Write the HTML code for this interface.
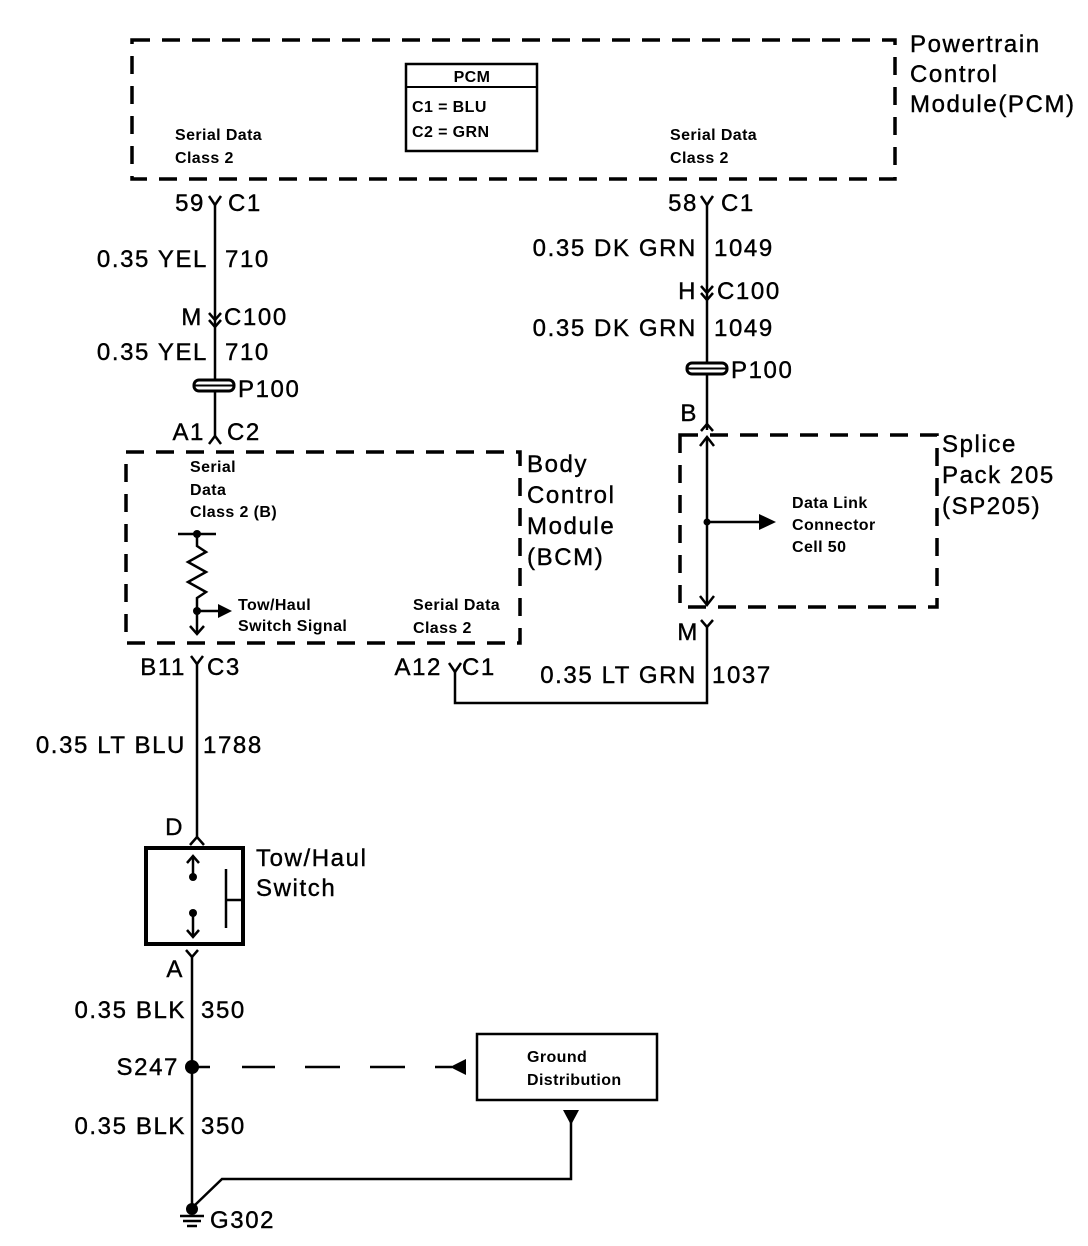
<!DOCTYPE html>
<html><head><meta charset="utf-8"><style>
html,body{margin:0;padding:0;background:#fff}
svg{display:block}
text{font-family:"Liberation Sans",Arial,sans-serif;fill:#000}
.b{font-size:24px;letter-spacing:1.6px;stroke:#000;stroke-width:0.4}
.s{font-size:16px;letter-spacing:0.4px;font-weight:bold}
</style></head><body>
<svg width="1088" height="1246" viewBox="0 0 1088 1246" xmlns="http://www.w3.org/2000/svg">
<g fill="none" stroke="#000">
<rect x="132" y="40" width="763" height="139" stroke-width="3.5" stroke-dasharray="18,12"/>
<rect x="406" y="64" width="131" height="87" stroke-width="2.5"/>
<line x1="406" y1="87" x2="537" y2="87" stroke-width="2"/>
<rect x="126" y="452" width="394" height="191" stroke-width="3.5" stroke-dasharray="18,12"/>
<rect x="680" y="435" width="257" height="172" stroke-width="3.5" stroke-dasharray="18,12"/>
<rect x="146" y="848" width="97" height="96" stroke-width="4"/>
<rect x="477" y="1034" width="180" height="66" stroke-width="2.5"/>

<g stroke-width="2.5">
<line x1="215" y1="205" x2="215" y2="438"/>
<polyline points="209,196 215,205 221,196"/>
<polyline points="209,313 215,320 221,313"/>
<polyline points="209,320 215,327 221,320"/>
<polyline points="209,444 215,436 221,444"/>
<line x1="707" y1="205" x2="707" y2="430"/>
<polyline points="701,196 707,205 713,196"/>
<polyline points="701,286 707,293 713,286"/>
<polyline points="701,293 707,300 713,293"/>
<polyline points="701,431 707,424 713,431"/>
<line x1="707" y1="437" x2="707" y2="605"/>
<polyline points="700,446 707,437 714,446"/>
<polyline points="700,596 707,605 714,596"/>
<line x1="707" y1="522" x2="760" y2="522"/>
<polyline points="701,620 707,627 713,620"/>
<polyline points="707,627 707,703 455,703 455,672"/>
<polyline points="449,663 455,672 461,663"/>
<line x1="178" y1="534" x2="216" y2="534"/>
<polyline points="197,534 197,546 206,552 188,562 206,572 188,582 206,592 197,598 197,634"/>
<line x1="197" y1="611" x2="218" y2="611"/>
<polyline points="190,626 197,634 204,626"/>
<line x1="197" y1="664" x2="197" y2="838"/>
<polyline points="191,656 197,664 203,656"/>
<polyline points="190,845 197,837 204,845"/>
<line x1="193" y1="856" x2="193" y2="877"/>
<polyline points="187,863 193,856 199,863"/>
<line x1="193" y1="913" x2="193" y2="937"/>
<polyline points="187,930 193,937 199,930"/>
<line x1="226" y1="869" x2="226" y2="928"/>
<line x1="226" y1="900" x2="243" y2="900"/>
<line x1="192" y1="957" x2="192" y2="1210"/>
<polyline points="186,950 192,957 198,950"/>
<polyline points="571,1118 571,1179 222,1179 195,1205"/>
<line x1="192" y1="1067" x2="210" y2="1067"/>
<line x1="242" y1="1067" x2="275" y2="1067"/>
<line x1="305" y1="1067" x2="340" y2="1067"/>
<line x1="370" y1="1067" x2="405" y2="1067"/>
<line x1="435" y1="1067" x2="452" y2="1067"/>
<line x1="180" y1="1216" x2="204" y2="1216"/>
<line x1="183" y1="1221" x2="201" y2="1221"/>
<line x1="187" y1="1226" x2="197" y2="1226"/>
</g>
</g>
<g fill="#000">
<rect x="194" y="380" width="40" height="11" rx="5" fill="#fff" stroke="#000" stroke-width="3"/>
<line x1="194" y1="385.5" x2="234" y2="385.5" stroke="#000" stroke-width="2"/>
<rect x="687" y="363" width="40" height="11" rx="5" fill="#fff" stroke="#000" stroke-width="3"/>
<line x1="687" y1="368.5" x2="727" y2="368.5" stroke="#000" stroke-width="2"/>
<circle cx="197" cy="534" r="4"/>
<circle cx="197" cy="611" r="4"/>
<polygon points="218,604 232,611 218,618"/>
<circle cx="707" cy="522" r="3.5"/>
<polygon points="759,514 776,522 759,530"/>
<circle cx="193" cy="877" r="4"/>
<circle cx="193" cy="913" r="4"/>
<circle cx="192" cy="1067" r="7"/>
<polygon points="466,1059 466,1075 450,1067"/>
<polygon points="563,1110 579,1110 571,1125"/>
<circle cx="192" cy="1209" r="6"/>
</g>

<text class="s" x="472" y="82" text-anchor="middle">PCM</text>
<text class="s" x="412" y="112">C1 = BLU</text>
<text class="s" x="412" y="137">C2 = GRN</text>
<text class="s" x="175" y="140">Serial Data</text>
<text class="s" x="175" y="163">Class 2</text>
<text class="s" x="670" y="140">Serial Data</text>
<text class="s" x="670" y="163">Class 2</text>
<text class="b" x="910" y="52">Powertrain</text>
<text class="b" x="910" y="82">Control</text>
<text class="b" x="910" y="112">Module(PCM)</text>

<text class="b" x="205" y="211" text-anchor="end">59</text>
<text class="b" x="228" y="211">C1</text>
<text class="b" x="208" y="267" text-anchor="end">0.35 YEL</text>
<text class="b" x="225" y="267">710</text>
<text class="b" x="203" y="325" text-anchor="end">M</text>
<text class="b" x="224" y="325">C100</text>
<text class="b" x="208" y="360" text-anchor="end">0.35 YEL</text>
<text class="b" x="225" y="360">710</text>
<text class="b" x="238" y="397">P100</text>
<text class="b" x="205" y="440" text-anchor="end">A1</text>
<text class="b" x="227" y="440">C2</text>

<text class="b" x="698" y="211" text-anchor="end">58</text>
<text class="b" x="721" y="211">C1</text>
<text class="b" x="697" y="256" text-anchor="end">0.35 DK GRN</text>
<text class="b" x="714" y="256">1049</text>
<text class="b" x="697" y="299" text-anchor="end">H</text>
<text class="b" x="717" y="299">C100</text>
<text class="b" x="697" y="336" text-anchor="end">0.35 DK GRN</text>
<text class="b" x="714" y="336">1049</text>
<text class="b" x="731" y="378">P100</text>
<text class="b" x="698" y="421" text-anchor="end">B</text>

<text class="s" x="190" y="472">Serial</text>
<text class="s" x="190" y="495">Data</text>
<text class="s" x="190" y="517">Class 2 (B)</text>
<text class="s" x="238" y="610">Tow/Haul</text>
<text class="s" x="238" y="631">Switch Signal</text>
<text class="s" x="413" y="610">Serial Data</text>
<text class="s" x="413" y="633">Class 2</text>
<text class="b" x="527" y="472">Body</text>
<text class="b" x="527" y="503">Control</text>
<text class="b" x="527" y="534">Module</text>
<text class="b" x="527" y="565">(BCM)</text>
<text class="b" x="186" y="675" text-anchor="end">B11</text>
<text class="b" x="207" y="675">C3</text>
<text class="b" x="442" y="675" text-anchor="end">A12</text>
<text class="b" x="462" y="675">C1</text>

<text class="s" x="792" y="508">Data Link</text>
<text class="s" x="792" y="530">Connector</text>
<text class="s" x="792" y="552">Cell 50</text>
<text class="b" x="942" y="452">Splice</text>
<text class="b" x="942" y="483">Pack 205</text>
<text class="b" x="942" y="514">(SP205)</text>
<text class="b" x="699" y="640" text-anchor="end">M</text>
<text class="b" x="697" y="683" text-anchor="end">0.35 LT GRN</text>
<text class="b" x="712" y="683">1037</text>

<text class="b" x="186" y="753" text-anchor="end">0.35 LT BLU</text>
<text class="b" x="203" y="753">1788</text>
<text class="b" x="184" y="835" text-anchor="end">D</text>
<text class="b" x="256" y="866">Tow/Haul</text>
<text class="b" x="256" y="896">Switch</text>
<text class="b" x="184" y="977" text-anchor="end">A</text>
<text class="b" x="186" y="1018" text-anchor="end">0.35 BLK</text>
<text class="b" x="201" y="1018">350</text>
<text class="b" x="179" y="1075" text-anchor="end">S247</text>
<text class="b" x="186" y="1134" text-anchor="end">0.35 BLK</text>
<text class="b" x="201" y="1134">350</text>
<text class="s" x="527" y="1062">Ground</text>
<text class="s" x="527" y="1085">Distribution</text>
<text class="b" x="210" y="1228">G302</text>
</svg>
</body></html>
